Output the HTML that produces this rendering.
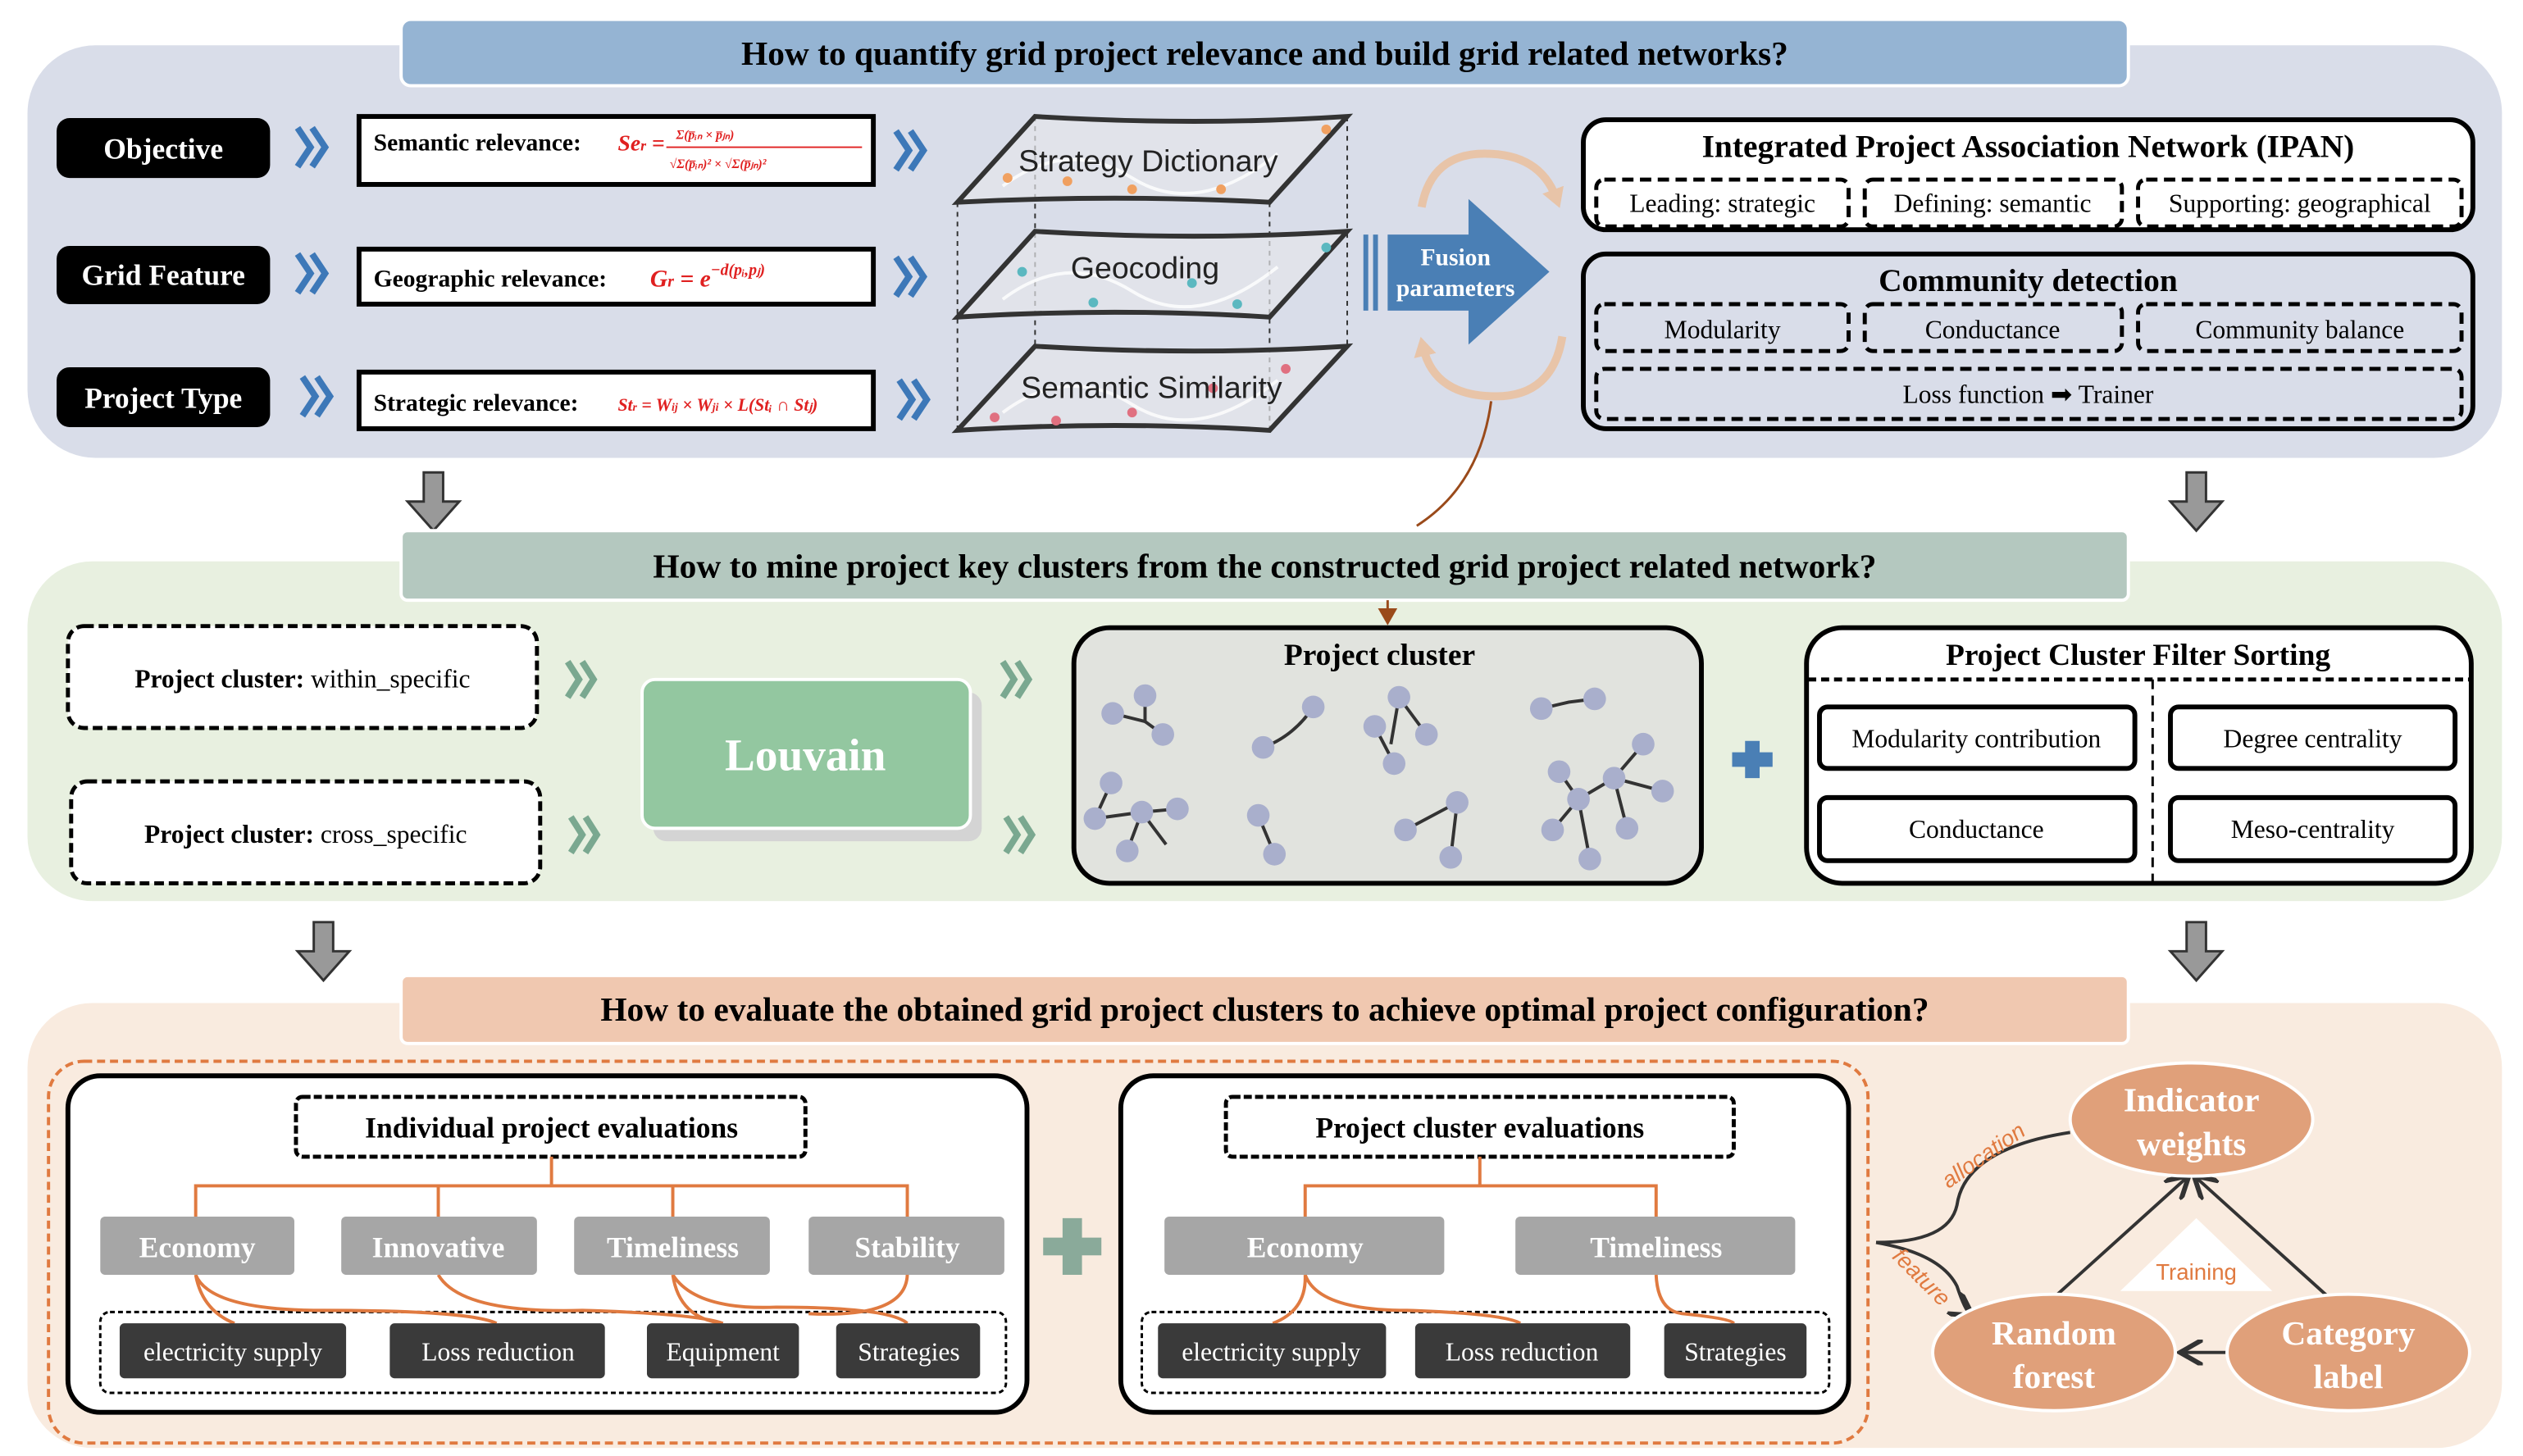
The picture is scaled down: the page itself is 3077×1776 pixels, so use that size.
<!DOCTYPE html>
<html><head><meta charset="utf-8"><style>html,body{margin:0;padding:0;background:#fff}svg{display:block}</style></head>
<body>
<svg width="3077" height="1776" viewBox="0 0 1560 900" preserveAspectRatio="none" xmlns="http://www.w3.org/2000/svg" font-family="Liberation Serif, serif">
<defs>
<marker id="ah" markerWidth="8" markerHeight="8" refX="6" refY="4" orient="auto"><path d="M0,0 L7,4 L0,8" fill="none" stroke="#333" stroke-width="1.5"/></marker>
<marker id="ao" markerWidth="8" markerHeight="8" refX="6" refY="4" orient="auto"><path d="M0,0 L7,4 L0,8 z" fill="#9a4a1a"/></marker>
<marker id="ap" markerUnits="userSpaceOnUse" markerWidth="14" markerHeight="14" refX="5" refY="7" orient="auto"><path d="M0,0 L12,7 L0,14 z" fill="#e8c4a8"/></marker>
<g id="chb"><path d="M0,0 L8,12 L0,24 M9,0 L17,12 L9,24" fill="none" stroke="#3d78b8" stroke-width="4"/></g>
<g id="chg"><path d="M0,0 L7,11 L0,22 M9,0 L16,11 L9,22" fill="none" stroke="#7aa890" stroke-width="4"/></g>
</defs>
<!-- Section 1 -->
<rect x="17" y="28" width="1530" height="255" rx="42" fill="#d9dde9"/>
<rect x="248" y="12" width="1068" height="41" rx="6" fill="#95b4d3" stroke="#fff" stroke-width="2"/>
<text x="782" y="40" text-anchor="middle" font-size="21" font-weight="bold">How to quantify grid project relevance and build grid related networks?</text>
<g font-weight="bold" font-size="18" fill="#fff" text-anchor="middle">
<rect x="35" y="73" width="132" height="37" rx="8" fill="#000"/><text x="101" y="98">Objective</text>
<rect x="35" y="152" width="132" height="36" rx="8" fill="#000"/><text x="101" y="176">Grid Feature</text>
<rect x="35" y="227" width="132" height="37" rx="8" fill="#000"/><text x="101" y="252">Project Type</text>
</g>
<use href="#chb" x="184" y="79"/><use href="#chb" x="184" y="157"/><use href="#chb" x="187" y="233"/>
<use href="#chb" x="554" y="81"/><use href="#chb" x="554" y="159"/><use href="#chb" x="556" y="235"/>
<g stroke="#000" stroke-width="3" fill="#fff">
<rect x="222" y="72" width="318" height="42"/><rect x="222" y="154" width="318" height="34"/><rect x="222" y="230" width="318" height="35"/>
</g>
<g font-size="15" font-weight="bold">
<text x="231" y="93">Semantic relevance:</text>
<text x="231" y="177">Geographic relevance:</text>
<text x="231" y="254">Strategic relevance:</text>
</g>
<g fill="#e02020" font-style="italic" font-weight="bold">
<text x="382" y="93" font-size="14">Se<tspan font-size="9">r</tspan> =</text>
<text x="418" y="86" font-size="8">Σ(p̅ᵢₙ × p̅ⱼₙ)</text>
<line x1="412" y1="91" x2="533" y2="91" stroke="#e02020" stroke-width="1"/>
<text x="414" y="104" font-size="8">√Σ(p̅ᵢₙ)² × √Σ(p̅ⱼₙ)²</text>
<text x="402" y="177" font-size="15">G<tspan font-size="10">r</tspan> = e<tspan font-size="10" dy="-7">−d(pᵢ,pⱼ)</tspan></text>
<text x="382" y="254" font-size="11">St<tspan font-size="7">r</tspan> = W<tspan font-size="7">ij</tspan> × W<tspan font-size="7">ji</tspan> × L(Stᵢ ∩ Stⱼ)</text>
</g>
<!-- layers -->
<g stroke="#333" stroke-width="1" stroke-dasharray="3,3">
<line x1="592" y1="125" x2="592" y2="266"/><line x1="785" y1="125" x2="785" y2="266"/><line x1="640" y1="72" x2="640" y2="215"/><line x1="833" y1="72" x2="833" y2="213"/>
</g>
<g stroke="#333" stroke-width="3" fill="#e4e6ea" fill-opacity="0.7">
<path d="M640,72 Q740,78 833,72 L785,125 Q690,120 592,125 Z"/>
<path d="M640,143 Q740,149 833,143 L785,196 Q690,190 592,196 Z"/>
<path d="M640,214 Q740,220 833,214 L785,266 Q690,260 592,266 Z"/>
</g>
<g stroke="#fff" stroke-width="2" fill="none" opacity="0.8">
<path d="M620,115 Q660,85 700,110 T790,95"/><path d="M620,185 Q660,155 700,180 T790,165"/><path d="M620,255 Q660,225 700,250 T790,235"/>
</g>
<g fill="#f0a060"><circle cx="623" cy="110" r="3"/><circle cx="660" cy="112" r="3"/><circle cx="700" cy="117" r="3"/><circle cx="755" cy="117" r="3"/><circle cx="820" cy="80" r="3"/></g>
<g fill="#5bb8c0"><circle cx="632" cy="168" r="3"/><circle cx="676" cy="187" r="3"/><circle cx="737" cy="175" r="3"/><circle cx="765" cy="188" r="3"/><circle cx="820" cy="153" r="3"/></g>
<g fill="#e07080"><circle cx="615" cy="258" r="3"/><circle cx="653" cy="260" r="3"/><circle cx="700" cy="255" r="3"/><circle cx="750" cy="240" r="3"/><circle cx="795" cy="228" r="3"/></g>
<g font-family="Liberation Sans, sans-serif" font-size="19" text-anchor="middle" fill="#222">
<text x="710" y="106">Strategy Dictionary</text><text x="708" y="172">Geocoding</text><text x="712" y="246">Semantic Similarity</text>
</g>
<!-- fusion -->
<path d="M858,145 L908,145 L908,123 L958,168 L908,213 L908,192 L858,192 Z" fill="#4a7fb5"/>
<rect x="843" y="145" width="3" height="47" fill="#4a7fb5"/><rect x="849" y="145" width="3" height="47" fill="#4a7fb5"/>
<text x="900" y="164" text-anchor="middle" fill="#fff" font-weight="bold" font-size="15">Fusion</text>
<text x="900" y="183" text-anchor="middle" fill="#fff" font-weight="bold" font-size="15">parameters</text>
<g fill="none" stroke-width="5">
<path d="M879,128 Q885,95 918,95 Q952,95 962,122" stroke="#e8c4a8" marker-end="url(#ap)"/>
<path d="M966,208 Q960,245 925,245 Q887,245 880,215" stroke="#e8c4a8" marker-end="url(#ap)"/>
</g>
<path d="M922,248 Q915,300 876,325" fill="none" stroke="#9a4a1a" stroke-width="1.5"/>
<!-- IPAN -->
<rect x="979" y="74" width="550" height="68" rx="14" fill="#fff" stroke="#000" stroke-width="3"/>
<text x="1254" y="97" text-anchor="middle" font-weight="bold" font-size="20">Integrated Project Association Network (IPAN)</text>
<g fill="none" stroke="#000" stroke-width="2.5" stroke-dasharray="7,4">
<rect x="987" y="111" width="156" height="29" rx="5"/><rect x="1153" y="111" width="159" height="29" rx="5"/><rect x="1322" y="111" width="200" height="29" rx="5"/>
<rect x="987" y="188" width="156" height="29" rx="5"/><rect x="1153" y="188" width="159" height="29" rx="5"/><rect x="1322" y="188" width="200" height="29" rx="5"/>
<rect x="987" y="228" width="535" height="31" rx="5"/>
</g>
<rect x="979" y="157" width="550" height="108" rx="14" fill="none" stroke="#000" stroke-width="3"/>
<text x="1254" y="180" text-anchor="middle" font-weight="bold" font-size="20">Community detection</text>
<g font-size="16" text-anchor="middle">
<text x="1065" y="131">Leading: strategic</text><text x="1232" y="131">Defining: semantic</text><text x="1422" y="131">Supporting: geographical</text>
<text x="1065" y="209">Modularity</text><text x="1232" y="209">Conductance</text><text x="1422" y="209">Community balance</text>
<text x="1254" y="249">Loss function ➡ Trainer</text>
</g>
<!-- gray down arrows -->
<g fill="#999" stroke="#333" stroke-width="1.5">
<path d="M262,292 L274,292 L274,310 L284,310 L268,328 L252,310 L262,310 Z"/>
<path d="M1352,292 L1364,292 L1364,310 L1374,310 L1358,328 L1342,310 L1352,310 Z"/>
<path d="M194,570 L206,570 L206,588 L216,588 L200,606 L184,588 L194,588 Z"/>
<path d="M1352,570 L1364,570 L1364,588 L1374,588 L1358,606 L1342,588 L1352,588 Z"/>
</g>
<!-- Section 2 -->
<rect x="17" y="347" width="1530" height="210" rx="40" fill="#e8f0e0"/>
<rect x="248" y="328" width="1068" height="43" rx="4" fill="#b4c8bf" stroke="#fff" stroke-width="2"/>
<text x="782" y="357" text-anchor="middle" font-size="21" font-weight="bold">How to mine project key clusters from the constructed grid project related network?</text>
<line x1="858" y1="371" x2="858" y2="385" stroke="#9a4a1a" stroke-width="1.5" marker-end="url(#ao)"/>
<g fill="#fff" stroke="#000" stroke-width="2.5" stroke-dasharray="6,3">
<rect x="42" y="387" width="290" height="63" rx="10"/><rect x="44" y="483" width="290" height="63" rx="10"/>
</g>
<g font-size="16" text-anchor="middle"><text x="187" y="425"><tspan font-weight="bold">Project cluster:</tspan> within_specific</text><text x="189" y="521"><tspan font-weight="bold">Project cluster:</tspan> cross_specific</text></g>
<use href="#chg" x="351" y="409"/><use href="#chg" x="353" y="505"/><use href="#chg" x="620" y="409"/><use href="#chg" x="622" y="505"/>
<rect x="404" y="428" width="203" height="92" rx="8" fill="#d4d4d4"/>
<rect x="397" y="420" width="203" height="92" rx="8" fill="#93c7a0" stroke="#fff" stroke-width="2"/>
<text x="498" y="476" text-anchor="middle" fill="#fff" font-weight="bold" font-size="28">Louvain</text>
<rect x="664" y="388" width="388" height="158" rx="22" fill="#e1e3de" stroke="#000" stroke-width="3"/>
<text x="853" y="411" text-anchor="middle" font-weight="bold" font-size="19">Project cluster</text>
<g stroke="#333" stroke-width="2" fill="none">
<path d="M688,441 L708,446 L719,454"/><path d="M708,430 L708,446"/><path d="M781,462 Q800,455 812,437"/><path d="M865,431 L860,460 M850,449 L862,472 M865,431 L882,454"/><path d="M953,438 L970,434 L986,432"/><path d="M964,477 L976,494 L998,481 L1016,460 M976,494 L960,513 M998,481 L1006,512 M998,481 L1028,489 M976,494 L983,531"/>
<path d="M687,484 L677,506 L706,502 L728,500 M706,502 L697,526 M706,502 L721,522"/><path d="M778,504 L788,528"/><path d="M869,513 L901,496 L897,530"/>
</g>
<g fill="#a9afcc">
<circle cx="688" cy="441" r="7"/><circle cx="708" cy="430" r="7"/><circle cx="719" cy="454" r="7"/><circle cx="781" cy="462" r="7"/><circle cx="812" cy="437" r="7"/>
<circle cx="865" cy="431" r="7"/><circle cx="850" cy="449" r="7"/><circle cx="882" cy="454" r="7"/><circle cx="862" cy="472" r="7"/><circle cx="953" cy="438" r="7"/><circle cx="986" cy="432" r="7"/>
<circle cx="964" cy="477" r="7"/><circle cx="976" cy="494" r="7"/><circle cx="998" cy="481" r="7"/><circle cx="1016" cy="460" r="7"/><circle cx="960" cy="513" r="7"/><circle cx="1006" cy="512" r="7"/><circle cx="1028" cy="489" r="7"/><circle cx="983" cy="531" r="7"/>
<circle cx="687" cy="484" r="7"/><circle cx="677" cy="506" r="7"/><circle cx="706" cy="502" r="7"/><circle cx="728" cy="500" r="7"/><circle cx="697" cy="526" r="7"/>
<circle cx="778" cy="504" r="7"/><circle cx="788" cy="528" r="7"/><circle cx="869" cy="513" r="7"/><circle cx="901" cy="496" r="7"/><circle cx="897" cy="530" r="7"/>
</g>
<path d="M1079,458 h9 v7 h8 v9 h-8 v7 h-9 v-7 h-8 v-9 h8 z" fill="#4a7fb5"/>
<rect x="1117" y="388" width="411" height="158" rx="22" fill="#fff" stroke="#000" stroke-width="3"/>
<text x="1322" y="411" text-anchor="middle" font-weight="bold" font-size="19">Project Cluster Filter Sorting</text>
<line x1="1118" y1="420" x2="1527" y2="420" stroke="#000" stroke-width="2.5" stroke-dasharray="5,3"/>
<line x1="1331" y1="420" x2="1331" y2="546" stroke="#000" stroke-width="1.5" stroke-dasharray="6,4"/>
<g fill="#fff" stroke="#000" stroke-width="3">
<rect x="1125" y="437" width="195" height="38" rx="5"/><rect x="1342" y="437" width="176" height="38" rx="5"/>
<rect x="1125" y="493" width="195" height="39" rx="5"/><rect x="1342" y="493" width="176" height="39" rx="5"/>
</g>
<g font-size="16" text-anchor="middle"><text x="1222" y="462">Modularity contribution</text><text x="1430" y="462">Degree centrality</text><text x="1222" y="518">Conductance</text><text x="1430" y="518">Meso-centrality</text></g>
<!-- Section 3 -->
<rect x="17" y="620" width="1530" height="275" rx="40" fill="#f9ebdf"/>
<rect x="248" y="603" width="1068" height="42" rx="4" fill="#f0c8b0" stroke="#fff" stroke-width="2"/>
<text x="782" y="631" text-anchor="middle" font-size="21" font-weight="bold">How to evaluate the obtained grid project clusters to achieve optimal project configuration?</text>
<rect x="30" y="656" width="1125" height="236" rx="22" fill="none" stroke="#e07a40" stroke-width="2" stroke-dasharray="5,3"/>
<rect x="42" y="665" width="593" height="208" rx="20" fill="#fff" stroke="#000" stroke-width="3"/>
<rect x="693" y="665" width="450" height="208" rx="20" fill="#fff" stroke="#000" stroke-width="3"/>
<g fill="#fff" stroke="#000" stroke-width="2.5" stroke-dasharray="5,2">
<rect x="183" y="678" width="315" height="37" rx="4"/><rect x="758" y="678" width="314" height="37" rx="4"/>
</g>
<g fill="none" stroke="#000" stroke-width="1.5" stroke-dasharray="3,2">
<rect x="62" y="811" width="560" height="50" rx="6"/><rect x="706" y="811" width="425" height="50" rx="6"/>
</g>
<g font-size="18" font-weight="bold" text-anchor="middle"><text x="341" y="703">Individual project evaluations</text><text x="915" y="703">Project cluster evaluations</text></g>
<g stroke="#e07a40" stroke-width="2" fill="none">
<path d="M341,715 V733 M121,752 V733 H561 V752 M271,733 V752 M416,733 V752"/>
<path d="M915,715 V733 M807,752 V733 H1024 V752"/>
<path d="M121,788 Q125,810 145,818 M121,788 Q130,810 200,810 Q290,810 307,818 M271,788 Q285,812 360,810 Q430,812 447,818 M416,788 Q420,815 447,818 M561,788 Q560,815 500,812 M416,788 Q430,810 480,808 Q550,808 561,818"/>
<path d="M807,788 Q808,810 787,818 M807,788 Q815,810 870,810 Q930,812 940,818 M1024,788 Q1025,810 1040,812 Q1070,815 1072,818"/>
</g>
<g fill="#a6a6a6"><rect x="62" y="752" width="120" height="36" rx="3"/><rect x="211" y="752" width="121" height="36" rx="3"/><rect x="355" y="752" width="121" height="36" rx="3"/><rect x="500" y="752" width="121" height="36" rx="3"/><rect x="720" y="752" width="173" height="36" rx="3"/><rect x="937" y="752" width="173" height="36" rx="3"/></g>
<g fill="#fff" font-size="18" font-weight="bold" text-anchor="middle"><text x="122" y="777">Economy</text><text x="271" y="777">Innovative</text><text x="416" y="777">Timeliness</text><text x="561" y="777">Stability</text><text x="807" y="777">Economy</text><text x="1024" y="777">Timeliness</text></g>
<g fill="#3a3a3a"><rect x="74" y="818" width="140" height="34" rx="3"/><rect x="241" y="818" width="133" height="34" rx="3"/><rect x="400" y="818" width="94" height="34" rx="3"/><rect x="517" y="818" width="89" height="34" rx="3"/><rect x="716" y="818" width="141" height="34" rx="3"/><rect x="875" y="818" width="133" height="34" rx="3"/><rect x="1029" y="818" width="88" height="34" rx="3"/></g>
<g fill="#fff" font-size="16" text-anchor="middle"><text x="144" y="841">electricity supply</text><text x="308" y="841">Loss reduction</text><text x="447" y="841">Equipment</text><text x="562" y="841">Strategies</text><text x="786" y="841">electricity supply</text><text x="941" y="841">Loss reduction</text><text x="1073" y="841">Strategies</text></g>
<path d="M657,753 h12 v12 h12 v11 h-12 v12 h-12 v-12 h-12 v-11 h12 z" fill="#8aaa9a"/>
<!-- right -->
<path d="M1280,700 Q1215,710 1210,745 Q1205,768 1160,768" fill="none" stroke="#333" stroke-width="2"/>
<path d="M1160,768 Q1200,775 1210,795 Q1215,810 1218,812" fill="none" stroke="#333" stroke-width="2" marker-end="url(#ah)"/>
<text x="1190" y="722" transform="rotate(-35 1218 705)" fill="#e07a40" font-family="Liberation Sans, sans-serif" font-size="14" font-style="italic">allocation</text>
<text x="1160" y="790" transform="rotate(45 1180 795)" fill="#e07a40" font-family="Liberation Sans, sans-serif" font-size="14" font-style="italic">feature</text>
<g stroke="#333" stroke-width="2" marker-end="url(#ah)"><line x1="1270" y1="802" x2="1352" y2="728"/><line x1="1440" y1="802" x2="1358" y2="728"/><line x1="1378" y1="836" x2="1350" y2="836"/></g>
<path d="M1358,753 L1405,798 L1311,798 Z" fill="#fff"/>
<text x="1358" y="791" text-anchor="middle" fill="#e07a40" font-family="Liberation Sans, sans-serif" font-size="14">Training</text>
<g fill="#e0a07a" stroke="#fff" stroke-width="2">
<ellipse cx="1355" cy="692" rx="75" ry="35"/><ellipse cx="1270" cy="836" rx="75" ry="36"/><ellipse cx="1452" cy="836" rx="75" ry="36"/>
</g>
<g fill="#fff" font-size="21" font-weight="bold" text-anchor="middle">
<text x="1355" y="687">Indicator</text><text x="1355" y="714">weights</text>
<text x="1270" y="831">Random</text><text x="1270" y="858">forest</text>
<text x="1452" y="831">Category</text><text x="1452" y="858">label</text>
</g>
</svg>
</body></html>
